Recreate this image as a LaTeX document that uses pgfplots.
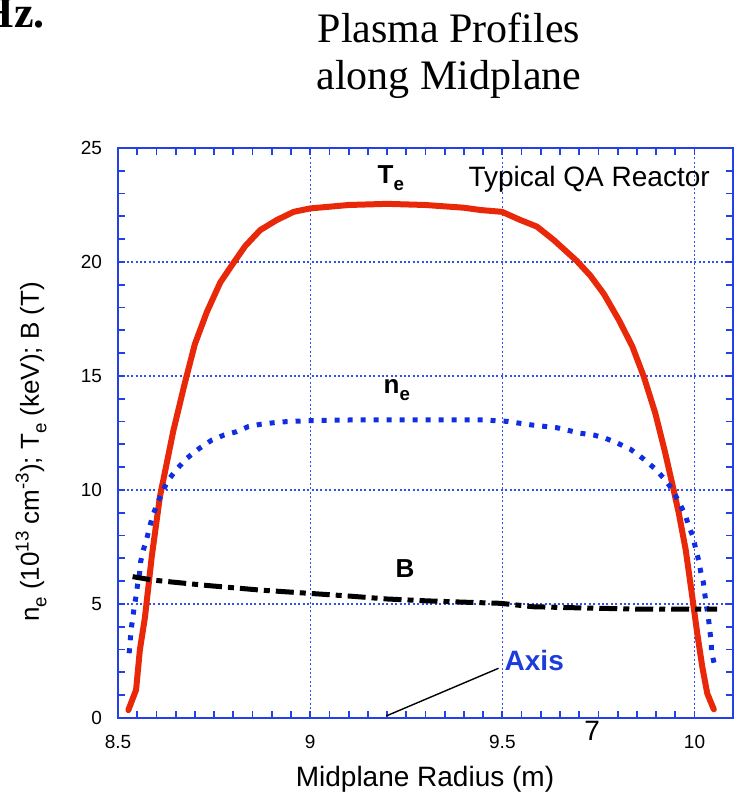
\documentclass[border=0pt]{standalone}
\usepackage{fontspec}
\setmainfont{Liberation Sans}
\newfontfamily\seriffont{Liberation Serif}
\usepackage{pgfplots}
\pgfplotsset{compat=1.18}
\definecolor{axblue}{RGB}{35,65,230}
\definecolor{gridblue}{RGB}{50,80,235}
\definecolor{tered}{RGB}{232,40,8}
\definecolor{neblue}{RGB}{15,45,225}
\definecolor{axistxt}{RGB}{30,60,220}
\newcommand{\mysub}[1]{\raisebox{-0.55ex}{\scalebox{0.72}{#1}}}
\newcommand{\mysup}[1]{\raisebox{0.75ex}{\scalebox{0.72}{#1}}}
\begin{document}
\begin{tikzpicture}
\begin{axis}[
  at={(59pt,38pt)}, anchor=south west, scale only axis,
  width=307.5pt, height=285pt,
  xmin=8.5, xmax=10.1, ymin=0, ymax=25,
  xtick={8.5,9,9.5,10}, ytick={0,5,10,15,20,25},
  minor x tick num=9, minor y tick num=4,
  xtick pos=both, ytick pos=both,
  tick align=inside, major tick length=3.5pt, minor tick length=3.5pt,
  grid=major,
  major grid style={gridblue, line width=0.6pt, dash pattern=on 1pt off 1.2pt},
  axis line style={axblue, line width=1pt},
  every tick/.style={axblue, line width=0.9pt},
  tick label style={font=\fontsize{9.5}{10}\selectfont, black},
  /pgf/number format/assume math mode=true,
  yticklabel style={xshift=-4.5pt},
  xticklabel style={yshift=-5pt},
  clip=false,
]
% T_e
\addplot[tered, line width=3pt, line join=round, line cap=round] coordinates {
(8.527,0.35) (8.547,1.23) (8.557,3.0) (8.570,4.4) (8.588,7.1) (8.609,9.7)
(8.644,12.6) (8.674,14.7) (8.700,16.4) (8.731,17.8) (8.766,19.1) (8.800,19.95)
(8.831,20.7) (8.870,21.4) (8.913,21.84) (8.957,22.2) (9.000,22.35) (9.1,22.5)
(9.2,22.55) (9.3,22.5) (9.4,22.38) (9.443,22.28) (9.499,22.2) (9.547,21.84)
(9.590,21.55) (9.634,20.96) (9.694,20.04) (9.729,19.4) (9.764,18.6) (9.803,17.46)
(9.838,16.3) (9.868,14.97) (9.898,13.36) (9.924,11.6) (9.946,9.97) (9.959,8.98)
(9.977,7.37) (9.994,5.32) (10.007,3.71) (10.020,2.25) (10.033,1.08) (10.050,0.38)
};
% n_e
\addplot[neblue, line width=2.5pt, dash pattern=on 2.5pt off 4pt] coordinates {
(8.529,2.84) (8.534,3.86) (8.538,4.34) (8.542,4.84) (8.547,5.36) (8.551,5.86)
(8.556,6.34) (8.559,6.86) (8.566,7.37) (8.575,7.88) (8.582,8.36) (8.590,8.86)
(8.602,9.39) (8.615,9.9) (8.629,10.39) (8.651,10.88) (8.679,11.39) (8.712,11.83)
(8.744,12.19) (8.776,12.41) (8.809,12.56) (8.839,12.78) (8.870,12.88) (8.905,12.95)
(8.940,13.0) (8.995,13.04) (9.1,13.07) (9.2,13.08) (9.3,13.08) (9.4,13.08)
(9.451,13.07) (9.512,13.01) (9.577,12.85) (9.642,12.73) (9.703,12.49) (9.738,12.41)
(9.768,12.27) (9.800,12.05) (9.833,11.79) (9.865,11.39) (9.896,10.95) (9.924,10.44)
(9.944,9.97) (9.961,9.41) (9.975,8.95) (9.985,8.42) (9.996,7.95) (10.003,7.41)
(10.011,6.9) (10.016,6.42) (10.023,5.94) (10.027,5.39) (10.031,4.91) (10.036,4.42)
(10.039,3.9) (10.043,3.42) (10.044,2.91) (10.051,2.4)
};
% B
\addplot[black, line width=2.5pt, dash pattern=on 9pt off 3pt on 3pt off 3pt] coordinates {
(8.538,6.2) (8.59,6.05) (8.643,5.96) (8.74,5.8) (8.87,5.61) (8.995,5.47)
(9.1,5.35) (9.2,5.22) (9.3,5.14) (9.4,5.08) (9.495,5.03) (9.58,4.88)
(9.7,4.83) (9.84,4.78) (10.059,4.77)
};
% Axis pointer
\addplot[black, line width=0.7pt] coordinates {(9.198,0.09) (9.49,2.18)};
\node[anchor=base west, inner sep=0, font=\fontsize{13}{14}\selectfont\bfseries] at (axis cs:9.1745,23.46) {T\mysub{e}};
\node[anchor=base west, inner sep=0, font=\fontsize{13}{14}\selectfont\bfseries] at (axis cs:9.190,14.25) {n\mysub{e}};
\node[anchor=base west, inner sep=0, font=\fontsize{13}{14}\selectfont\bfseries] at (axis cs:9.221,6.18) {B};
\node[anchor=base west, inner sep=0, font=\fontsize{14}{15}\selectfont] at (axis cs:9.411,23.29) {Typical QA Reactor};
\node[anchor=base west, inner sep=0, font=\fontsize{14}{15}\selectfont\bfseries, text=axistxt] at (axis cs:9.505,2.1) {Axis};
\end{axis}
% axis labels
\node[anchor=base, inner sep=0, font=\fontsize{14}{15}\selectfont] at (212.5pt,3.5pt) {Midplane Radius (m)};
\node[rotate=90, anchor=center, inner sep=0, font=\fontsize{13}{14}\selectfont] at (15.5pt,171pt)
  {n\mysub{e} (10\mysup{13} cm\mysup{-3}); T\mysub{e} (keV); B (T)};
% title
\node[anchor=base, inner sep=0, font=\seriffont\fontsize{21}{23}\selectfont] at (224.5pt,375.5pt) {Plasma Profiles};
\node[anchor=base, inner sep=0, font=\seriffont\fontsize{21}{23}\selectfont] at (224.5pt,352pt) {along Midplane};
\node[anchor=base east, inner sep=0, font=\seriffont\bfseries\fontsize{22}{24}\selectfont] at (22.5pt,383pt) {Hz.};
\node[anchor=base west, inner sep=0, font=\fontsize{14}{15}\selectfont] at (292pt,27pt) {7};
\pgfresetboundingbox
\useasboundingbox (0,0) rectangle (369pt,397pt);
\end{tikzpicture}
\end{document}
